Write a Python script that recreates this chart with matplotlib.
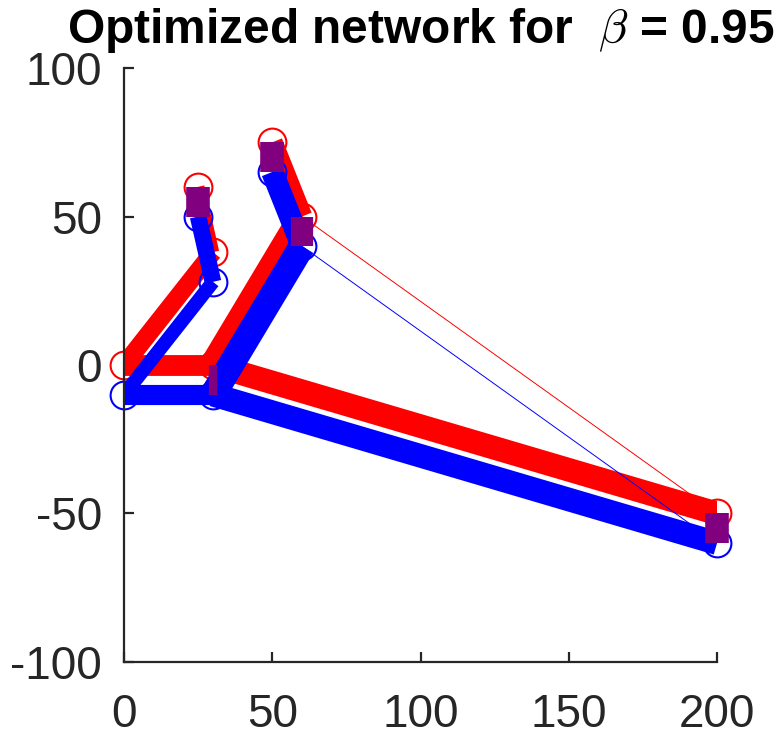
import numpy as np
import matplotlib.pyplot as plt

plt.rcParams['font.family'] = ['Liberation Sans', 'DejaVu Sans']
plt.rcParams['mathtext.fontset'] = 'cm'
plt.rcParams['axes.unicode_minus'] = False

# node coordinates for the two networks (blue is shifted down by 10)
node_x = [0, 30, 30, 25, 60, 50, 200]
red_y = [0, 0, 38, 60, 50, 75, -50]
blue_y = [-10, -10, 28, 50, 40, 65, -60]

# edges (from, to) and flow on each edge
red_edges = [(0, 1), (0, 2), (2, 3), (1, 4), (4, 5), (1, 6), (4, 6)]
red_flow = [15, 13, 9, 19, 15, 17, 0.7]
blue_edges = [(0, 1), (0, 2), (2, 3), (1, 4), (4, 5), (1, 6), (4, 6)]
blue_flow = [14.5, 10, 12, 19, 16, 17, 0.7]

# shared nodes and their weights
shared_nodes = [1, 3, 4, 5, 6]
shared_w = [6, 17, 16, 17, 17]

fig = plt.figure(figsize=(7.81, 7.37), dpi=100)
ax = fig.add_axes([0.1588, 0.1018, 0.7593, 0.8059])


def draw_network(ys, edges, flow, color):
    for (i, j), w in zip(edges, flow):
        ax.plot([node_x[i], node_x[j]], [ys[i], ys[j]], '-', color=color,
                linewidth=w, solid_capstyle='butt', solid_joinstyle='miter')
    ax.plot(node_x, ys, 'o', markersize=20, markerfacecolor='none',
            markeredgecolor=color, markeredgewidth=1.5, linestyle='none',
            clip_on=False)


draw_network(red_y, red_edges, red_flow, 'red')
draw_network(blue_y, blue_edges, blue_flow, 'blue')

for n, w in zip(shared_nodes, shared_w):
    ax.plot([node_x[n], node_x[n]], [red_y[n], blue_y[n]], '-',
            color=(0.5, 0, 0.5), linewidth=w, solid_capstyle='butt',
            clip_on=False)

ax.set_xlim(0, 200)
ax.set_ylim(-100, 100)
ax.set_xticks([0, 50, 100, 150, 200])
ax.set_yticks([-100, -50, 0, 50, 100])
for s in ['top', 'right']:
    ax.spines[s].set_visible(False)
for s in ['left', 'bottom']:
    ax.spines[s].set_linewidth(1.6)
    ax.spines[s].set_color('#262626')
ax.tick_params(direction='in', length=7, width=1.6, colors='#262626',
               labelsize=33)
ax.tick_params(axis='x', pad=22)
ax.tick_params(axis='y', pad=16)

ax.set_title(r'Optimized network for  $\beta$ = 0.95', fontsize=34.5,
             fontweight='bold', pad=18)

fig.savefig('out.png', dpi=100)
